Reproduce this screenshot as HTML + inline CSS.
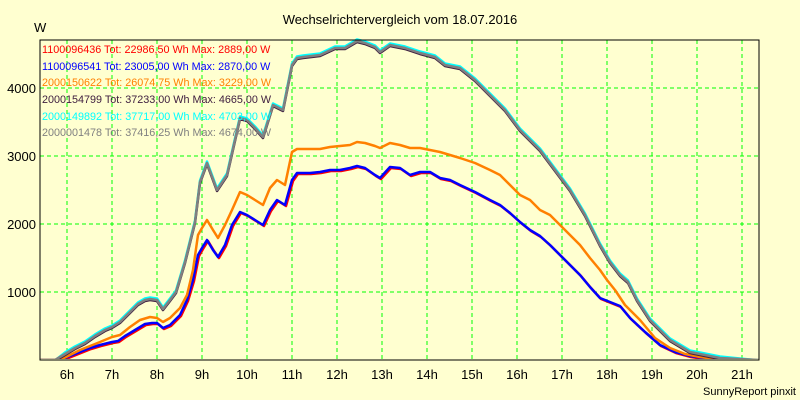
<!DOCTYPE html>
<html><head><meta charset="utf-8"><style>
html,body{margin:0;padding:0;background:#ffffd0;}
svg{display:block;font-family:"Liberation Sans",sans-serif;}
</style></head><body>
<svg width="800" height="400" viewBox="0 0 800 400">
<defs><clipPath id="c"><rect x="40" y="38" width="719" height="321"/></clipPath></defs>
<rect width="800" height="400" fill="#ffffd0"/>
<text x="400" y="24" font-size="13" text-anchor="middle">Wechselrichtervergleich vom 18.07.2016</text>
<text x="34" y="32" font-size="13">W</text>
<g stroke="#00ff00" stroke-dasharray="4,3" stroke-width="1">
<line x1="40" x2="759" y1="292" y2="292"/><line x1="40" x2="759" y1="224" y2="224"/>
<line x1="40" x2="759" y1="156" y2="156"/><line x1="40" x2="759" y1="88" y2="88"/>
<line x1="67" x2="67" y1="40" y2="360"/><line x1="112" x2="112" y1="40" y2="360"/>
<line x1="157" x2="157" y1="40" y2="360"/><line x1="202" x2="202" y1="40" y2="360"/>
<line x1="247" x2="247" y1="40" y2="360"/><line x1="292" x2="292" y1="40" y2="360"/>
<line x1="337" x2="337" y1="40" y2="360"/><line x1="382" x2="382" y1="40" y2="360"/>
<line x1="427" x2="427" y1="40" y2="360"/><line x1="472" x2="472" y1="40" y2="360"/>
<line x1="517" x2="517" y1="40" y2="360"/><line x1="562" x2="562" y1="40" y2="360"/>
<line x1="607" x2="607" y1="40" y2="360"/><line x1="652" x2="652" y1="40" y2="360"/>
<line x1="697" x2="697" y1="40" y2="360"/><line x1="742" x2="742" y1="40" y2="360"/>
</g>
<g font-size="13" text-anchor="end">
<text x="36" y="297">1000</text><text x="36" y="229">2000</text><text x="36" y="161">3000</text><text x="36" y="93">4000</text>
</g>
<g font-size="13" text-anchor="middle">
<text x="67" y="379">6h</text><text x="112" y="379">7h</text><text x="157" y="379">8h</text><text x="202" y="379">9h</text>
<text x="247" y="379">10h</text><text x="292" y="379">11h</text><text x="337" y="379">12h</text><text x="382" y="379">13h</text>
<text x="427" y="379">14h</text><text x="472" y="379">15h</text><text x="517" y="379">16h</text><text x="562" y="379">17h</text>
<text x="607" y="379">18h</text><text x="652" y="379">19h</text><text x="697" y="379">20h</text><text x="742" y="379">21h</text>
</g>
<text x="796" y="395" font-size="11" text-anchor="end">SunnyReport pinxit</text>
<g fill="none" stroke-width="2.5" stroke-linejoin="round" clip-path="url(#c)">
<polyline stroke="#ff0000" transform="translate(1,1)" points="40,360 60,360 70,356 80,352 90,348 100,345 112,342 118,341 125,336 135,330 145,324 152,323 157,323 163,328 170,325 180,315 187,300 193,280 198,255 202,248 207,240 213,250 218,257 225,245 232,225 240,212 247,215 255,220 263,225 270,210 277,200 285,205 292,180 297,173 310,173 320,172 330,170 340,170 350,168 357,166 365,168 375,175 380,178 390,167 400,168 410,175 420,172 430,172 440,178 450,180 460,185 475,192 490,200 500,205 510,213 520,222 530,230 540,236 550,245 560,255 570,265 580,275 590,287 600,298 610,302 620,306 630,318 645,332 660,345 675,352 690,356 710,359 740,360"/>
<polyline stroke="#0000ff" points="40,360 60,360 70,356 80,352 90,348 100,345 112,342 118,341 125,336 135,330 145,324 152,323 157,323 163,328 170,325 180,315 187,300 193,280 198,255 202,248 207,240 213,250 218,257 225,245 232,225 240,212 247,215 255,220 263,225 270,210 277,200 285,205 292,180 297,173 310,173 320,172 330,170 340,170 350,168 357,166 365,168 375,175 380,178 390,167 400,168 410,175 420,172 430,172 440,178 450,180 460,185 475,192 490,200 500,205 510,213 520,222 530,230 540,236 550,245 560,255 570,265 580,275 590,287 600,298 610,302 620,306 630,318 645,332 660,345 675,352 690,356 710,359 740,360"/>
<polyline stroke="#ff8000" points="40,360 60,360 70,355 80,350 90,346 100,342 112,337 120,335 130,327 140,320 150,317 157,318 163,322 170,318 180,308 187,295 193,270 198,235 202,228 207,220 213,230 218,238 225,225 232,210 240,192 247,195 255,200 263,205 270,188 277,180 285,185 292,152 297,149 320,149 330,147 340,146 350,145 357,142 365,143 375,146 380,148 390,143 400,145 410,148 420,148 430,150 440,152 450,155 460,158 475,163 490,170 500,175 510,185 520,195 530,200 540,210 550,215 560,225 570,235 580,245 590,258 600,270 607,280 615,290 625,305 640,320 655,338 670,348 685,354 700,357 715,359 740,360"/>
<polyline stroke="#00ffff" transform="translate(0,-1.5)" points="40,362 55,362 65,354 75,348 85,343 95,336 105,330 112,327 120,322 130,312 138,304 145,300 150,299 157,300 163,309 170,300 176,292 185,262 195,222 200,182 207,163 217,190 227,175 240,118 247,120 255,128 263,137 273,105 283,110 292,65 297,58 303,57 320,55 335,48 345,48 357,41 365,43 375,47 380,52 390,45 405,48 420,53 435,57 445,65 460,68 475,80 490,95 505,110 520,130 540,150 555,170 570,190 585,215 600,245 610,262 620,275 628,282 637,300 650,320 670,340 690,352 720,358 760,362"/>
<polyline stroke="#402040" transform="translate(0,1)" points="40,360 55,360 65,354 75,348 85,343 95,336 105,330 112,327 120,322 130,312 138,304 145,300 150,299 157,300 163,309 170,300 176,292 185,262 195,222 200,182 207,163 217,190 227,175 240,118 247,120 255,128 263,137 273,105 283,110 292,65 297,58 303,57 320,55 335,48 345,48 357,41 365,43 375,47 380,52 390,45 405,48 420,53 435,57 445,65 460,68 475,80 490,95 505,110 520,130 540,150 555,170 570,190 585,215 600,245 610,262 620,275 628,282 637,300 650,320 670,340 690,352 720,358 760,360"/>
<polyline stroke="#808080" points="40,360 55,360 65,354 75,348 85,343 95,336 105,330 112,327 120,322 130,312 138,304 145,300 150,299 157,300 163,309 170,300 176,292 185,262 195,222 200,182 207,163 217,190 227,175 240,118 247,120 255,128 263,137 273,105 283,110 292,65 297,58 303,57 320,55 335,48 345,48 357,41 365,43 375,47 380,52 390,45 405,48 420,53 435,57 445,65 460,68 475,80 490,95 505,110 520,130 540,150 555,170 570,190 585,215 600,245 610,262 620,275 628,282 637,300 650,320 670,340 690,352 720,358 760,360"/>
</g>
<rect x="40" y="40" width="719" height="320" fill="none" stroke="#000" stroke-width="1"/>
<g font-size="10.8">
<text x="42" y="53" fill="#ff0000">1100096436 Tot: 22986,50 Wh Max: 2889,00 W</text>
<text x="42" y="70" fill="#0000ff">1100096541 Tot: 23005,00 Wh Max: 2870,00 W</text>
<text x="42" y="86" fill="#ff8000">2000150622 Tot: 26074,75 Wh Max: 3229,00 W</text>
<text x="42" y="103" fill="#402040">2000154799 Tot: 37233,00 Wh Max: 4665,00 W</text>
<text x="42" y="120" fill="#00ffff">2000149892 Tot: 37717,00 Wh Max: 4703,00 W</text>
<text x="42" y="136" fill="#808080">2000001478 Tot: 37416,25 Wh Max: 4674,00 W</text>
</g>
</svg>
</body></html>
